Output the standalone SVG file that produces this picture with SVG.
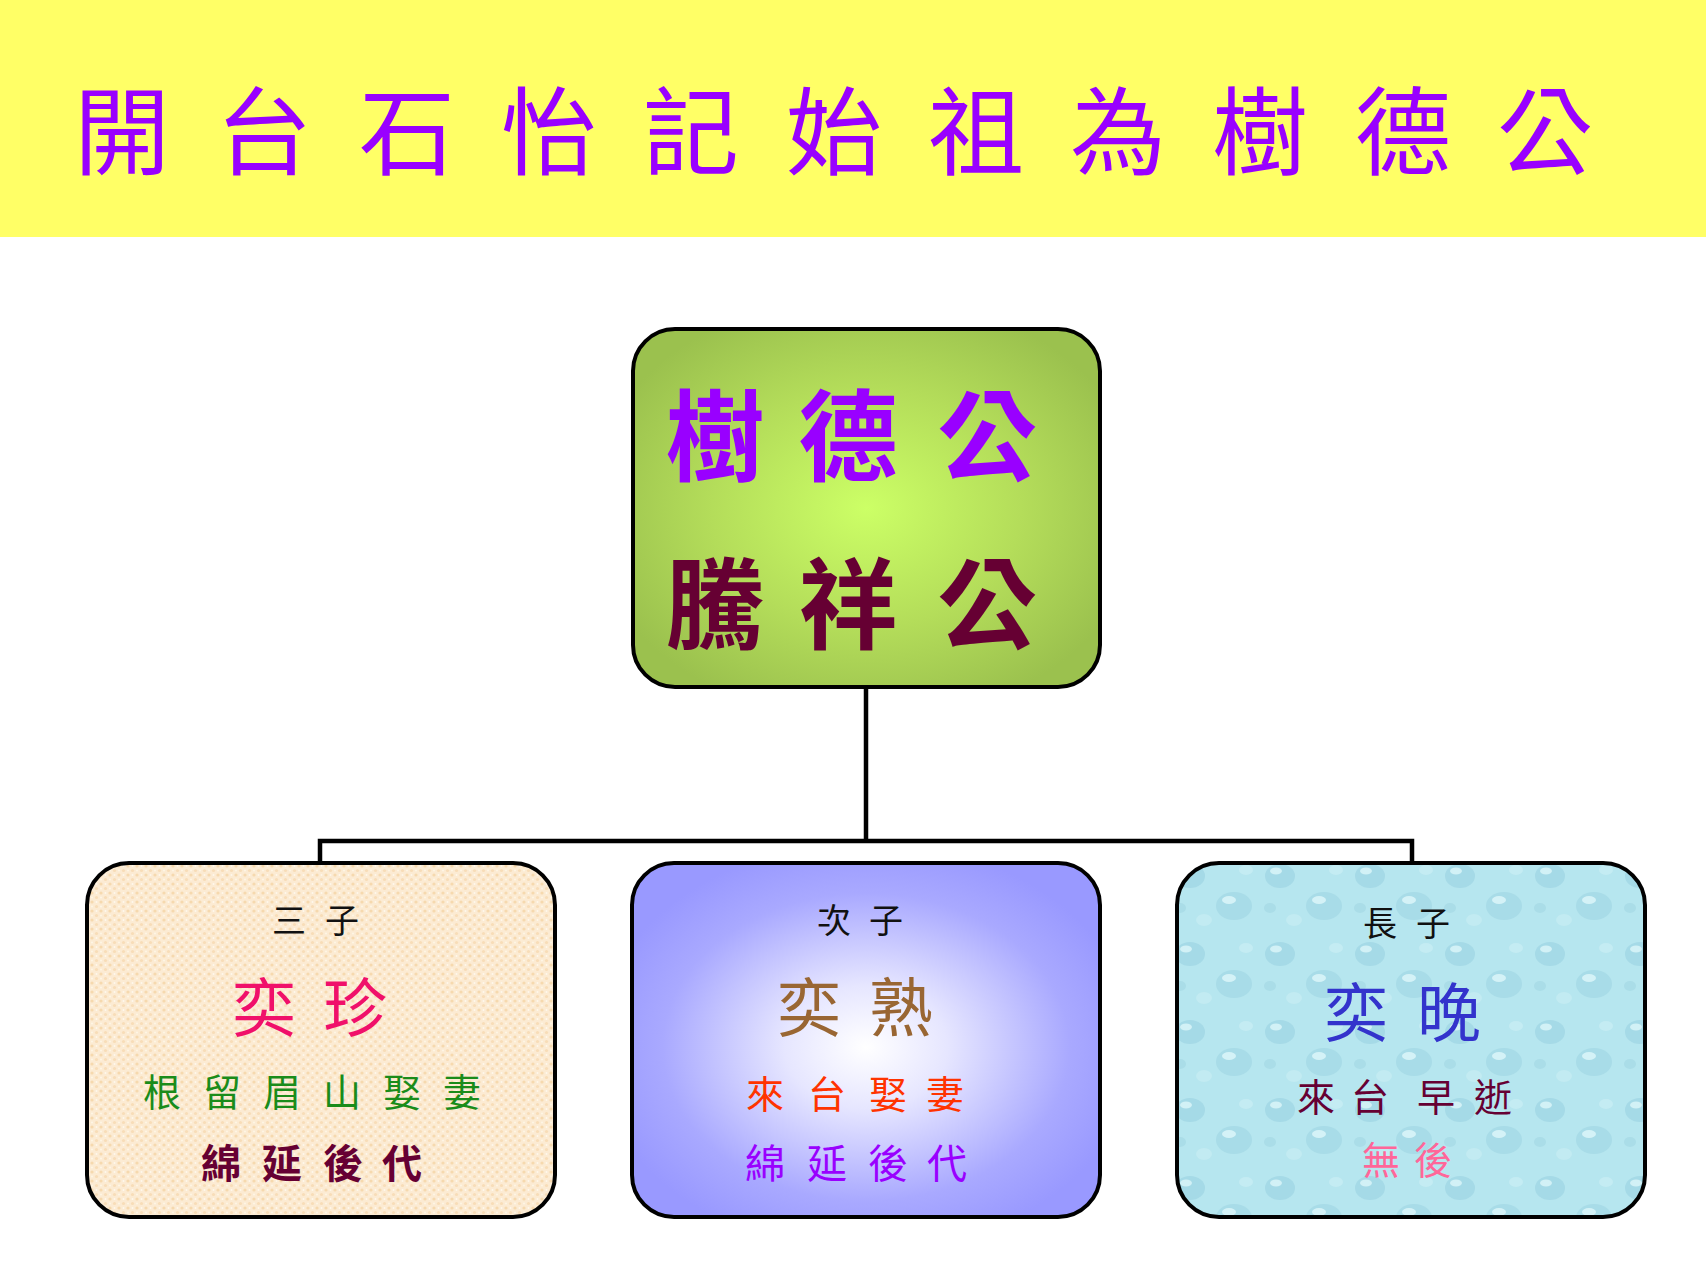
<svg xmlns="http://www.w3.org/2000/svg" width="1706" height="1279" viewBox="0 0 1706 1279">
<style>
.cjk{font-family:"Noto Sans CJK TC","Noto Sans CJK SC",sans-serif;text-anchor:middle}
.box{stroke:#000;stroke-width:4}
.conn{fill:none;stroke:#000;stroke-width:4.5}
</style>
<defs>
<radialGradient id="gTop" cx="50%" cy="50%" r="60%">
<stop offset="0" stop-color="#CCFF66"/>
<stop offset="0.55" stop-color="#B4DD5A"/>
<stop offset="1" stop-color="#9BC14E"/>
</radialGradient>
<radialGradient id="gMid" cx="50%" cy="52%" r="58%">
<stop offset="0" stop-color="#FFFFFF"/>
<stop offset="0.3" stop-color="#E6E6FF"/>
<stop offset="0.75" stop-color="#A9A9FF"/>
<stop offset="1" stop-color="#9999FF"/>
</radialGradient>
<pattern id="pBeige" width="9" height="9" patternUnits="userSpaceOnUse">
<rect width="9" height="9" fill="#FCEBD3"/>
<circle cx="2" cy="2" r="1.6" fill="#F6D9AE"/>
<circle cx="6.5" cy="6.5" r="1.6" fill="#F8DDB8"/>
<circle cx="6.5" cy="2" r="1" fill="#FFF8EC"/>
<circle cx="2" cy="6.5" r="1" fill="#FFF6E6"/>
</pattern>
<pattern id="pWater" width="90" height="78" patternUnits="userSpaceOnUse">
<rect width="90" height="78" fill="#B6E6EF"/>
<ellipse cx="20" cy="18" rx="15" ry="12" fill="#A5DAE7"/>
<ellipse cx="16" cy="13" rx="6" ry="3.5" fill="#D2F1F6"/>
<ellipse cx="64" cy="48" rx="18" ry="14" fill="#A8DCE8"/>
<ellipse cx="59" cy="42" rx="7" ry="4" fill="#D4F2F7"/>
<ellipse cx="34" cy="62" rx="8" ry="6" fill="#C2EBF2"/>
<ellipse cx="76" cy="12" rx="7" ry="5" fill="#C4ECF3"/>
<ellipse cx="10" cy="50" rx="6" ry="5" fill="#AADDE8"/>
</pattern>
</defs>

<rect x="0" y="0" width="1706" height="1279" fill="#FFFFFF"/>

<g id="title">
<rect x="0" y="0" width="1706" height="237" fill="#FFFF66"/>
<text class="cjk" x="122 193 264 335 407 478 549 620 691 762 834 905 976 1047 1118 1189 1260 1331 1403 1474 1545" y="167" font-size="96" fill="#9900FF">開 台 石 怡 記 始 祖 為 樹 德 公</text>
</g>

<g id="connectors">
<path class="conn" d="M866 688 V841"/>
<path class="conn" d="M320 862 V841 H1412 V862"/>
</g>

<g id="node-shude">
<rect class="box" x="633" y="329" width="467" height="358" rx="42" fill="url(#gTop)"/>
<text class="cjk" x="715 781 848 917 987" y="473" font-size="99" font-weight="bold" fill="#9900FF">樹 德 公</text>
<text class="cjk" x="715 781 848 917 987" y="641" font-size="99" font-weight="bold" fill="#660033">騰 祥 公</text>
</g>

<g id="node-yizhen">
<rect class="box" x="87" y="863" width="468" height="354" rx="42" fill="url(#pBeige)"/>
<text class="cjk" x="289 315 342" y="933" font-size="34" fill="#111111">三 子</text>
<text class="cjk" x="264 310 355" y="1031" font-size="64" fill="#F0106A">奕 珍</text>
<text class="cjk" x="162 192 222 252 282 312 342 372 402 432 462" y="1106" font-size="38" fill="#1A8C1A">根 留 眉 山 娶 妻</text>
<text class="cjk" x="221 251 282 312 343 372 402" y="1178" font-size="40" font-weight="bold" fill="#660033">綿 延 後 代</text>
</g>

<g id="node-yishu">
<rect class="box" x="632" y="863" width="468" height="354" rx="42" fill="url(#gMid)"/>
<text class="cjk" x="834 860 886" y="933" font-size="34" fill="#111111">次 子</text>
<text class="cjk" x="809 855 901" y="1031" font-size="64" fill="#996633">奕 熟</text>
<text class="cjk" x="765 796 827 857 888 916 945" y="1108" font-size="38" fill="#FF3300">來 台 娶 妻</text>
<text class="cjk" x="765 796 827 857 888 917 947" y="1178" font-size="40" fill="#9900FF">綿 延 後 代</text>
</g>

<g id="node-yiwan">
<rect class="box" x="1177" y="863" width="468" height="354" rx="42" fill="url(#pWater)"/>
<text class="cjk" x="1380 1406 1433" y="936" font-size="34" fill="#111111">長 子</text>
<text class="cjk" x="1356 1402 1449" y="1036" font-size="64" fill="#3333CC">奕 晚</text>
<text class="cjk" x="1316 1343 1370 1403 1436 1464 1493" y="1111" font-size="38" fill="#660033">來 台 早 逝</text>
<text class="cjk" x="1381 1407 1433" y="1174" font-size="38" fill="#FF6699">無 後</text>
</g>
</svg>
